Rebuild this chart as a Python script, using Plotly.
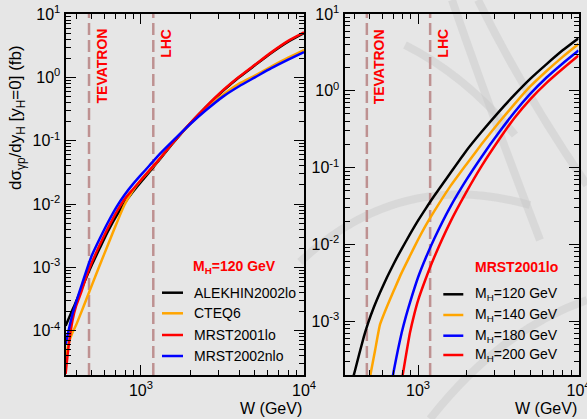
import math
import plotly.graph_objects as go

# ---------------- data ----------------
# Left panel: M_H = 120 GeV, different PDF sets  (W in GeV, cross section in fb)
W_left = [345, 360, 380, 400, 430, 460, 500, 560, 630, 710, 790, 890, 1000, 1120,
          1260, 1580, 2000, 2500, 3200, 4000, 5000, 6300, 8000, 10000]
alekhin2002lo = [1.20e-4, 1.55e-4, 2.14e-4, 2.88e-4, 4.47e-4, 6.76e-4, 1.10e-3,
                 2.04e-3, 3.80e-3, 6.61e-3, 1.02e-2, 1.55e-2, 2.24e-2, 3.16e-2,
                 4.57e-2, 9.33e-2, 0.186, 0.339, 0.617, 1.00, 1.55, 2.43, 3.67, 5.01]
cteq6 = [3.55e-5, 6.31e-5, 9.33e-5, 1.23e-4, 1.95e-4, 3.02e-4, 5.25e-4, 1.10e-3,
         2.34e-3, 5.01e-3, 9.55e-3, 1.62e-2, 2.40e-2, 3.31e-2, 4.68e-2, 9.55e-2,
         0.182, 0.316, 0.537, 0.794, 1.07, 1.48, 2.04, 2.69]
mrst2001lo = [2.09e-5, 5.75e-5, 1.45e-4, 2.46e-4, 4.07e-4, 6.92e-4, 1.20e-3,
              2.29e-3, 4.27e-3, 7.59e-3, 1.18e-2, 1.70e-2, 2.40e-2, 3.35e-2,
              4.68e-2, 9.44e-2, 0.188, 0.343, 0.631, 1.02, 1.58, 2.48, 3.76, 5.13]
mrst2002nlo = [6.03e-5, 1.02e-4, 1.82e-4, 2.82e-4, 5.01e-4, 8.51e-4, 1.55e-3,
               2.88e-3, 5.25e-3, 9.12e-3, 1.38e-2, 2.04e-2, 2.88e-2, 3.98e-2,
               5.62e-2, 0.101, 0.182, 0.302, 0.501, 0.724, 1.00, 1.40, 1.91, 2.51]

left_names = ["ALEKHIN2002lo", "CTEQ6", "MRST2001lo", "MRST2002nlo"]
left_title = "M<sub>H</sub>=120 GeV"

# Right panel: MRST2001lo, different Higgs masses
W_mh120 = [390, 405, 430, 460, 489, 530, 580, 640, 710, 790, 890, 1000, 1120, 1260,
           1580, 2000, 2500, 3200, 4000, 5000, 6300, 8000, 10000]
mh120 = [1.70e-4, 2.29e-4, 3.72e-4, 6.31e-4, 9.55e-4, 1.51e-3, 2.37e-3, 3.72e-3,
         5.75e-3, 8.71e-3, 1.35e-2, 2.04e-2, 2.95e-2, 4.27e-2, 8.32e-2, 0.166,
         0.295, 0.537, 0.891, 1.43, 2.21, 3.39, 4.84]
W_mh140 = [500, 507, 540, 580, 640, 710, 790, 890, 1000, 1120, 1260, 1580, 2000,
           2500, 3200, 4000, 5000, 6300, 8000, 10000]
mh140 = [1.78e-4, 2.09e-4, 4.17e-4, 9.12e-4, 1.55e-3, 2.57e-3, 4.27e-3, 7.08e-3,
         1.15e-2, 1.78e-2, 2.69e-2, 5.62e-2, 0.110, 0.204, 0.389, 0.676, 1.14,
         1.80, 2.79, 4.07]
W_mh180 = [690, 710, 750, 791, 840, 890, 1000, 1120, 1260, 1580, 2000, 2500, 3200,
           4000, 5000, 6300, 8000, 10000]
mh180 = [1.74e-4, 2.40e-4, 4.27e-4, 7.08e-4, 1.15e-3, 1.74e-3, 3.72e-3, 6.76e-3,
         1.18e-2, 3.02e-2, 6.92e-2, 0.140, 0.288, 0.530, 0.912, 1.48, 2.29, 3.35]
W_mh200 = [795, 810, 850, 891, 950, 1000, 1120, 1260, 1580, 2000, 2500, 3200, 4000,
           5000, 6300, 8000, 10000]
mh200 = [1.78e-4, 2.24e-4, 4.07e-4, 7.08e-4, 1.26e-3, 1.86e-3, 3.63e-3, 6.76e-3,
         1.91e-2, 4.79e-2, 0.106, 0.232, 0.447, 0.776, 1.26, 1.95, 2.88]

right_names = ["M<sub>H</sub>=120 GeV", "M<sub>H</sub>=140 GeV",
               "M<sub>H</sub>=180 GeV", "M<sub>H</sub>=200 GeV"]
right_title = "MRST2001lo"

# collider energies (vertical markers)
collider_W = [480, 1190]
collider_labels = ["TEVATRON", "LHC"]

x_tickvals = [1e3, 1e4]
x_ticktext = ["10<sup>3</sup>", "10<sup>4</sup>"]
yl_tickvals = [1e-4, 1e-3, 1e-2, 1e-1, 1, 10]
yl_ticktext = ["10<sup>-4</sup>", "10<sup>-3</sup>", "10<sup>-2</sup>",
               "10<sup>-1</sup>", "10<sup>0</sup>", "10<sup>1</sup>"]
yr_tickvals = [1e-3, 1e-2, 1e-1, 1, 10]
yr_ticktext = ["10<sup>-3</sup>", "10<sup>-2</sup>", "10<sup>-1</sup>",
               "10<sup>0</sup>", "10<sup>1</sup>"]

# ---------------- figure ----------------
W, H = 587, 419
FONT = "Liberation Sans, Arial, Helvetica, sans-serif"
BG = "#e6e6e6"
left_colors = ["black", "#ffa500", "#ff0000", "#0000ff"]
right_colors = ["black", "#ffa500", "#0000ff", "#ff0000"]


def px(x):
    return x / W


def py(y):
    return 1 - y / H


fig = go.Figure()

left_series = [alekhin2002lo, cteq6, mrst2001lo, mrst2002nlo]
for name, vals, c in zip(left_names, left_series, left_colors):
    fig.add_trace(go.Scatter(x=W_left, y=vals, mode="lines", name=name,
                             line=dict(color=c, width=2.5, shape="spline", smoothing=0.6),
                             xaxis="x", yaxis="y", showlegend=False))

right_x = [W_mh120, W_mh140, W_mh180, W_mh200]
right_y = [mh120, mh140, mh180, mh200]
for name, xs, ys, c in zip(right_names, right_x, right_y, right_colors):
    fig.add_trace(go.Scatter(x=xs, y=ys, mode="lines", name=name,
                             line=dict(color=c, width=2.5, shape="spline", smoothing=0.5),
                             xaxis="x2", yaxis="y2", showlegend=False))

axis_common = dict(type="log", showgrid=False, zeroline=False, showline=True,
                   linecolor="black", linewidth=2, mirror="allticks",
                   ticks="inside", ticklen=10, tickwidth=1, tickcolor="black",
                   tickfont=dict(family=FONT, size=16, color="black"),
                   minor=dict(dtick="D1", ticks="inside", ticklen=5, tickwidth=1,
                              tickcolor="black", showgrid=False),
                   tickmode="array", automargin=False, ticklabeloverflow="allow")

ydom = [py(375), py(14)]
fig.update_layout(
    width=W, height=H,
    margin=dict(l=0, r=0, t=0, b=0),
    paper_bgcolor=BG, plot_bgcolor=BG,
    font=dict(family=FONT, color="black"),
    xaxis=dict(axis_common, domain=[px(65.5), px(304)], range=[2.537, 4],
               tickvals=x_tickvals, ticktext=x_ticktext, anchor="y"),
    yaxis=dict(axis_common, domain=ydom, range=[-4.699, 1],
               tickvals=yl_tickvals, ticktext=yl_ticktext, anchor="x"),
    xaxis2=dict(axis_common, domain=[px(344.5), px(578.5)], range=[2.542, 4],
                tickvals=x_tickvals, ticktext=x_ticktext, anchor="y2"),
    yaxis2=dict(axis_common, domain=ydom, range=[-3.699, 1],
                tickvals=yr_tickvals, ticktext=yr_ticktext, anchor="x2"),
)

shapes = []
annots = []

# faint background watermark strokes (decoration only)
wm_paths = [
    "M 452 0 Q 490 110 540 240",
    "M 478 0 Q 525 95 587 185",
    "M 405 45 Q 465 75 515 135",
    "M 300 262 Q 400 168 530 205",
    "M 430 419 Q 500 330 587 300",
]


def path_to_paper(p):
    toks = p.split()
    out = []
    i = 0
    while i < len(toks):
        t = toks[i]
        if t.isalpha():
            out.append(t)
            i += 1
        else:
            out.append("%.4f,%.4f" % (px(float(t)), py(float(toks[i + 1]))))
            i += 2
    return " ".join(out)


for p in wm_paths:
    shapes.append(dict(type="path", xref="paper", yref="paper", path=path_to_paper(p),
                       line=dict(color="rgba(200,200,200,0.45)", width=8),
                       layer="below"))

for xr, yr in [("x", "y domain"), ("x2", "y2 domain")]:
    for wv, lab in zip(collider_W, collider_labels):
        shapes.append(dict(type="line", xref=xr, yref=yr, x0=wv, x1=wv, y0=0, y1=1,
                           line=dict(color="rgb(190,145,145)", width=2.5, dash="12px,5px"),
                           layer="below"))
        annots.append(dict(xref=xr, yref=yr, x=math.log10(wv), y=1, xshift=12, yshift=-13,
                           text="<b>%s</b>" % lab, textangle=-90, showarrow=False,
                           xanchor="center", yanchor="top",
                           font=dict(family=FONT, size=14, color="red")))


def add_legend(names, cols, title, title_x, title_y, line_x0, line_x1, text_x, rows):
    annots.append(dict(xref="paper", yref="paper", x=px(title_x), y=py(title_y),
                       text="<b>%s</b>" % title, showarrow=False, xanchor="center",
                       yanchor="middle", font=dict(family=FONT, size=14, color="red")))
    for n, c, ry in zip(names, cols, rows):
        shapes.append(dict(type="line", xref="paper", yref="paper", x0=px(line_x0),
                           x1=px(line_x1), y0=py(ry), y1=py(ry),
                           line=dict(color=c, width=2.5)))
        annots.append(dict(xref="paper", yref="paper", x=px(text_x), y=py(ry),
                           text=n, showarrow=False, xanchor="left", yanchor="middle",
                           font=dict(family=FONT, size=14, color="black")))


add_legend(left_names, left_colors, left_title, 234, 267, 162, 183, 192,
           [292.7, 313.3, 335, 356])
add_legend(right_names, right_colors, right_title, 516, 267, 443.3, 463.3, 473,
           [294.3, 315, 335.7, 355])

# axis titles
annots.append(dict(xref="paper", yref="paper", x=px(17), y=py(118),
                   text="dσ<sub>γp</sub>/dy<sub>H</sub> [y<sub>H</sub>=0] (fb)",
                   textangle=-90, showarrow=False, xanchor="center", yanchor="middle",
                   font=dict(family=FONT, size=17, color="black")))
for xr in [304, 578.5]:
    annots.append(dict(xref="paper", yref="paper", x=px(xr), y=py(408),
                       text="W (GeV)", showarrow=False, xanchor="right", yanchor="middle",
                       font=dict(family=FONT, size=16, color="black")))

fig.update_layout(shapes=shapes, annotations=annots)
fig.write_html("out.html", config={"displayModeBar": False, "staticPlot": True},
               post_script="document.body.style.margin='0';document.body.style.padding='0';"
                           "document.body.style.overflow='hidden';")
